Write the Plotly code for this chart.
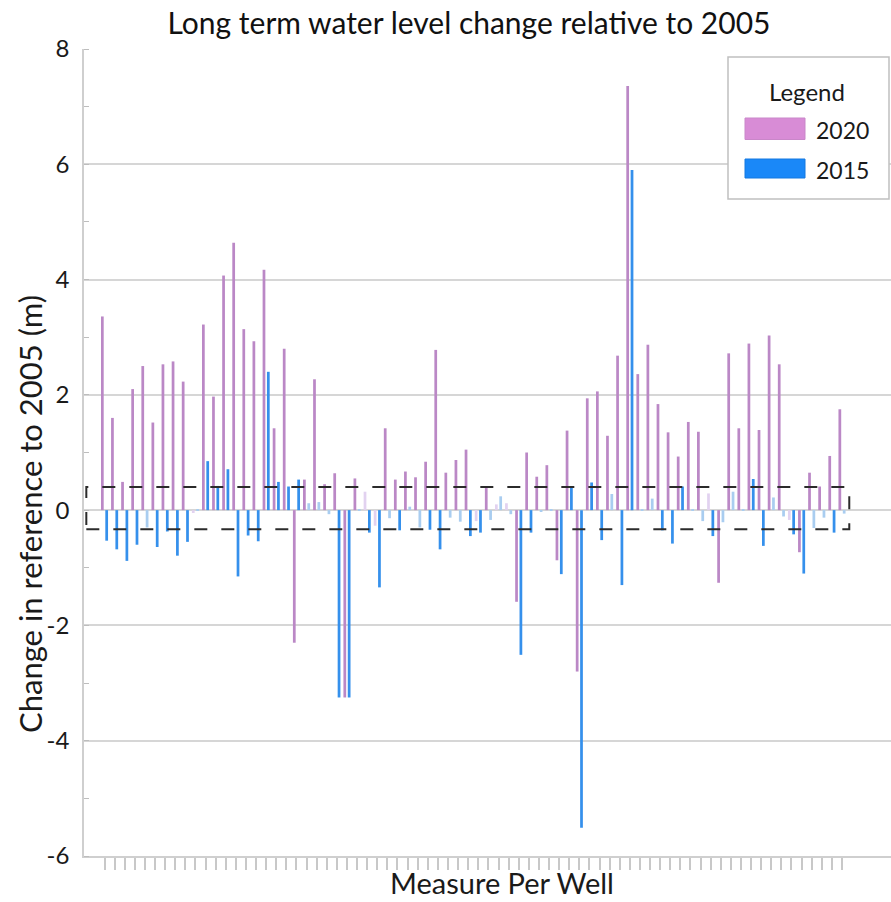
import plotly.graph_objects as go

# ---------------- data ----------------
wells = [f"Well {i+1}" for i in range(74)]

change_2020 = [3.36, 1.60, 0.49, 2.10, 2.50, 1.52, 2.53, 2.58, 2.23, -0.05,
               3.22, 1.97, 4.07, 4.64, 3.14, 2.93, 4.17, 1.42, 2.80, -2.30,
               0.53, 2.27, 0.45, 0.64, -3.25, 0.55, 0.32, -0.27, 1.42, 0.53,
               0.67, 0.57, 0.84, 2.78, 0.65, 0.87, 1.05, -0.19, 0.41, 0.10,
               0.12, -1.59, 1.00, 0.58, 0.78, -0.87, 1.38, -2.80, 1.94, 2.06,
               1.29, 2.68, 7.36, 2.36, 2.87, 1.84, 1.35, 0.93, 1.53, 1.36,
               0.29, -1.26, 2.72, 1.42, 2.89, 1.39, 3.03, 2.53, -0.17, -0.73,
               0.65, 0.41, 0.94, 1.75]

change_2015 = [-0.53, -0.68, -0.88, -0.60, -0.30, -0.64, -0.37, -0.79, -0.55, 0.02,
               0.85, 0.42, 0.71, -1.15, -0.44, -0.54, 2.40, 0.49, 0.41, 0.53,
               0.12, 0.14, -0.07, -3.25, -3.25, 0.02, -0.39, -1.34, -0.14, -0.35,
               0.06, -0.30, -0.34, -0.68, -0.13, -0.20, -0.45, -0.39, -0.17, 0.24,
               -0.07, -2.51, -0.39, -0.02, 0.01, -1.11, 0.41, -5.51, 0.48, -0.52,
               0.28, -1.30, 5.90, 0.02, 0.20, -0.35, -0.58, 0.41, 0.01, -0.19,
               -0.45, -0.21, 0.32, 0.02, 0.54, -0.62, 0.22, -0.11, -0.42, -1.10,
               -0.31, -0.13, -0.39, -0.06]

series_names = ["2020", "2015"]
band_upper = 0.40
band_lower = -0.33
y_ticks = [-6, -4, -2, 0, 2, 4, 6, 8]

# ---------------- styling ----------------
FONT = "Lato"
C2020, C2020_LIGHT, C2020_LEG = "#bb88c6", "#e2d2f0", "#d88cd6"
C2015, C2015_LIGHT, C2015_LEG = "#3590ec", "#a9cdf0", "#1a88f8"

def colors(vals, strong, light):
    return [light if band_lower < v < band_upper else strong for v in vals]

fig = go.Figure()
fig.add_trace(go.Bar(x=wells, y=change_2020, name=series_names[0],
                     marker=dict(color=colors(change_2020, C2020, C2020_LIGHT), line_width=0),
                     showlegend=False))
fig.add_trace(go.Bar(x=wells, y=change_2015, name=series_names[1],
                     marker=dict(color=colors(change_2015, C2015, C2015_LIGHT), line_width=0),
                     showlegend=False))

# plot-area pixel geometry (for decorations)
L, R, T, B = 84, 891, 49, 856
W, H = R - L, B - T
def px(x): return (x - L) / W
def py(y): return (B - y) / H

n = len(wells)
# dashed band box
fig.add_shape(type="rect", xref="x", yref="y",
              x0=-1.8, x1=n - 1 + 0.72, y0=band_lower, y1=band_upper,
              line=dict(color="#2b2b2b", width=2, dash="13px,14px"),
              fillcolor="rgba(0,0,0,0)", layer="above")

# manual legend
fig.add_shape(type="rect", xref="paper", yref="paper",
              x0=px(728), x1=px(889), y0=py(199), y1=py(57),
              line=dict(color="#c0c0c0", width=1.5), fillcolor="white", layer="above")
fig.add_shape(type="rect", xref="paper", yref="paper",
              x0=px(745), x1=px(805), y0=py(139.5), y1=py(118),
              line=dict(color="#c987c9", width=1), fillcolor=C2020_LEG, layer="above")
fig.add_shape(type="rect", xref="paper", yref="paper",
              x0=px(745), x1=px(805), y0=py(178), y1=py(159),
              line=dict(color="#1478e0", width=1), fillcolor=C2015_LEG, layer="above")
fig.add_annotation(xref="paper", yref="paper", x=px(807), y=py(92), text="Legend",
                   showarrow=False, xanchor="center", yanchor="middle",
                   font=dict(family=FONT, size=24, color="#1a1a1a"))
fig.add_annotation(xref="paper", yref="paper", x=px(871), y=py(130), text=series_names[0],
                   showarrow=False, xanchor="right", yanchor="middle",
                   font=dict(family=FONT, size=23, color="#1a1a1a"))
fig.add_annotation(xref="paper", yref="paper", x=px(871), y=py(170), text=series_names[1],
                   showarrow=False, xanchor="right", yanchor="middle",
                   font=dict(family=FONT, size=23, color="#1a1a1a"))

# axis titles
fig.add_annotation(xref="paper", yref="paper", x=px(30), y=py(514),
                   text="Change in reference to 2005 (m)", textangle=-90,
                   showarrow=False, xanchor="center", yanchor="middle",
                   font=dict(family=FONT, size=31, color="#1a1a1a"))
fig.add_annotation(xref="paper", yref="paper", x=px(502), y=py(882),
                   text="Measure Per Well", showarrow=False,
                   xanchor="center", yanchor="middle",
                   font=dict(family=FONT, size=29, color="#1a1a1a"))

fig.update_layout(
    width=891, height=902,
    margin=dict(l=L, r=891 - R, t=T, b=902 - B),
    paper_bgcolor="white", plot_bgcolor="white",
    barmode="group", bargap=0.14, bargroupgap=0.37,
    showlegend=False,
    title=dict(text="Long term water level change relative to 2005",
               x=469 / 891, xanchor="center", xref="container",
               y=1 - 23 / 902, yanchor="middle", yref="container",
               font=dict(family=FONT, size=30, color="#111")),
    font=dict(family=FONT, color="#1a1a1a"),
)

fig.update_xaxes(type="category", range=[-2.03, n - 1 + 4.85],
                 tickmode="linear", tick0=0, dtick=1,
                 showticklabels=False, ticks="outside", ticklen=12,
                 tickwidth=1.5, tickcolor="#c8c8c8",
                 showgrid=False, showline=True, linecolor="#cfcfcf", linewidth=1.5,
                 zeroline=False)

fig.update_yaxes(range=[-6, 8], tickvals=y_ticks, ticktext=[str(v) for v in y_ticks],
                 tickfont=dict(family=FONT, size=24, color="#1a1a1a"),
                 ticks="", ticklabelstandoff=8,
                 showgrid=True, gridcolor="#d6d6d6", gridwidth=1.5,
                 zeroline=True, zerolinecolor="#d6d6d6", zerolinewidth=1.5,
                 showline=True, linecolor="#cfcfcf", linewidth=1.5,
                 minor=dict(dtick=1, tick0=1, ticks="inside", ticklen=5,
                            tickcolor="#bdbdbd", tickwidth=1.2, showgrid=False))

fig.write_html("out.html")
